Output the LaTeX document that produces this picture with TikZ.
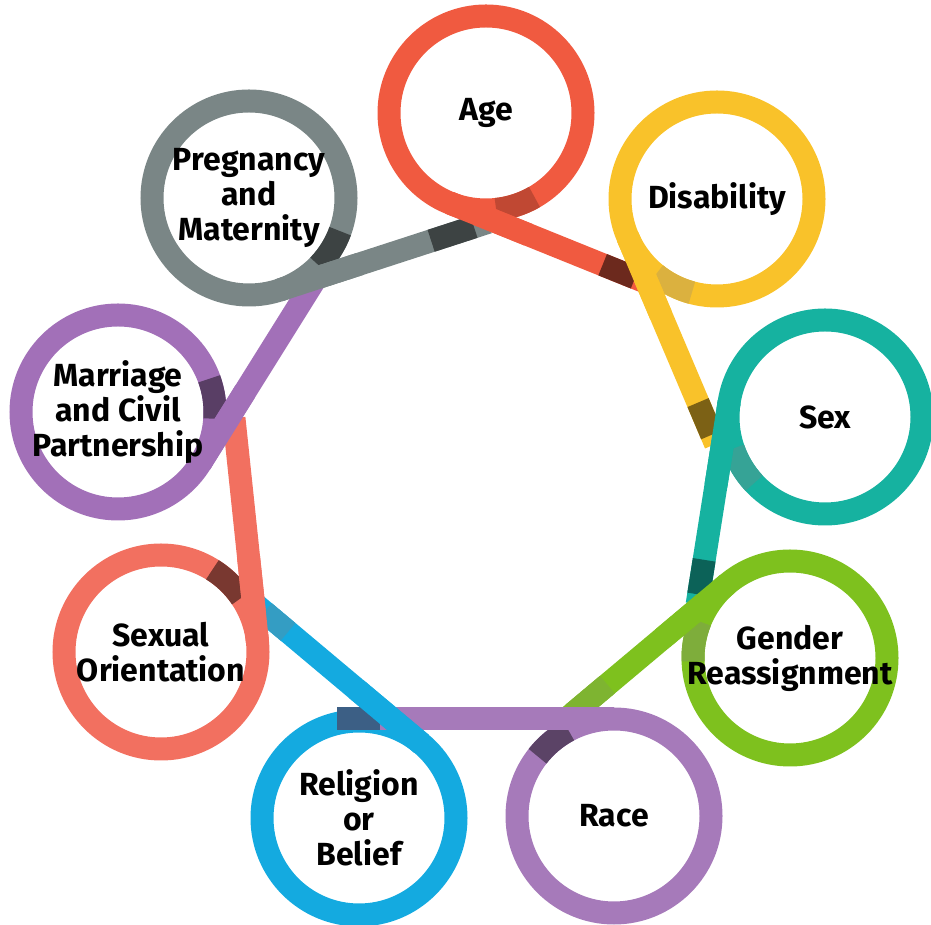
\documentclass[tikz,border=0pt]{standalone}
\usepackage{fontspec}
\setmainfont{Fira Sans}
\definecolor{agered}{RGB}{240, 90, 64}
\definecolor{disyellow}{RGB}{249, 194, 42}
\definecolor{sexteal}{RGB}{22, 178, 160}
\definecolor{gengreen}{RGB}{126, 193, 30}
\definecolor{racepurple}{RGB}{166, 122, 186}
\definecolor{relblue}{RGB}{20, 170, 224}
\definecolor{orsalmon}{RGB}{242, 112, 96}
\definecolor{marpurple}{RGB}{162, 112, 184}
\definecolor{preggrey}{RGB}{122, 134, 134}

\begin{document}
\begin{tikzpicture}[x=1pt, y=1pt,
                    loopring/.style={circle, draw=#1, line width=23pt, minimum size=194pt, inner sep=0pt, outer sep=0pt},
                    band/.style={line width=23pt},
                    tag/.style={align=center, inner sep=0pt, font=\fontsize{32}{35}\selectfont\bfseries}]
                    \useasboundingbox (0,0) rectangle (931,925);
                    \node[loopring=agered] (age) at (486,812) {};
                    \node[loopring=disyellow] (dis) at (717,726) {};
                    \node[loopring=sexteal] (sex) at (825,508) {};
                    \node[loopring=gengreen] (gen) at (790,267) {};
                    \node[loopring=racepurple] (rac) at (614,109) {};
                    \node[loopring=relblue] (rel) at (359,107) {};
                    \node[loopring=orsalmon] (sxo) at (161,273) {};
                    \node[loopring=marpurple] (mar) at (118,513) {};
                    \node[loopring=preggrey] (prg) at (249,727) {};
                    \draw[band, agered!80!black] (age.276) arc[start angle=276, end angle=300, radius=97];
                    \draw[band, disyellow!75!gray] (dis.231) arc[start angle=231, end angle=255, radius=97];
                    \draw[band, sexteal!70!gray] (sex.199) arc[start angle=199, end angle=223, radius=97];
                    \draw[band, gengreen!70!gray] (gen.158) arc[start angle=158, end angle=182, radius=97];
                    \draw[band, racepurple!55!black] (rac.118) arc[start angle=118, end angle=142, radius=97];
                    \draw[band, orsalmon!50!black] (sxo.34) arc[start angle=34, end angle=58, radius=97];
                    \draw[band, marpurple!55!black] (mar.-4) arc[start angle=-4, end angle=20, radius=97];
                    \draw[band, preggrey!50!black] (prg.-44) arc[start angle=-44, end angle=-20, radius=97];
                    \draw[band, preggrey] (prg.-72) -- ++(18:220) coordinate (prgtail);
                    \draw[band, agered] (age.248) -- ++(338:210) coordinate (agetail);
                    \draw[band, disyellow] (dis.203) -- ++(293:225) coordinate (distail);
                    \draw[band, sexteal] (sex.171) -- ++(261:205) coordinate (sextail);
                    \draw[band, gengreen] (gen.130) -- ++(220:212) coordinate (gentail);
                    \draw[band, racepurple] (rac.90) -- ++(180:277) coordinate (ractail);
                    \draw[band, relblue] (rel.50) -- ++(140:218) coordinate (reltail);
                    \draw[band, orsalmon] (sxo.6) -- ++(96:225) coordinate (sxotail);
                    \draw[band, marpurple] (mar.-32) -- ++(58:215) coordinate (martail);
                    \draw[band, preggrey!50!black] (prg.-72) ++(18:160) -- ++(18:45);
                    \draw[band, agered!45!black] (age.248) ++(338:165) -- ++(338:35);
                    \draw[band, disyellow!50!black] (dis.203) ++(293:180) -- ++(293:35);
                    \draw[band, sexteal!55!black] (sex.171) ++(261:160) -- ++(261:35);
                    \draw[band, gengreen!80!gray] (gen.130) ++(220:157) -- ++(220:45);
                    \draw[band, racepurple!50!relblue!65!black] (rac.90) ++(180:234) -- ++(180:43);
                    \draw[band, relblue!70!gray] (rel.50) ++(140:174) -- ++(140:31);
                    \draw[band, preggrey] (prg.-72) -- ++(18:85);
                    \draw[band, agered] (age.248) -- ++(338:85);
                    \draw[band, disyellow] (dis.203) -- ++(293:85);
                    \draw[band, sexteal] (sex.171) -- ++(261:85);
                    \draw[band, gengreen] (gen.130) -- ++(220:85);
                    \draw[band, racepurple] (rac.90) -- ++(180:85);
                    \draw[band, relblue] (rel.50) -- ++(140:85);
                    \draw[band, orsalmon] (sxo.6) -- ++(96:85);
                    \draw[band, marpurple] (mar.-32) -- ++(58:85);
                    \node[tag] (agetxt) at (age) {Age};
                    \node[tag] (distxt) at (dis) {Disability};
                    \node[tag] (sextxt) at (sex) {Sex};
                    \node[tag] (gentxt) at (gen) {Gender\\Reassignment};
                    \node[tag] (ractxt) at (rac) {Race};
                    \node[tag] (reltxt) at (rel) {Religion\\or\\Belief};
                    \node[tag] (sxotxt) at (sxo) {Sexual\\Orientation};
                    \node[tag] (martxt) at (mar) {Marriage\\and Civil\\Partnership};
                    \node[tag] (prgtxt) at (prg) {Pregnancy\\and\\Maternity};
                \end{tikzpicture}
\end{document}
